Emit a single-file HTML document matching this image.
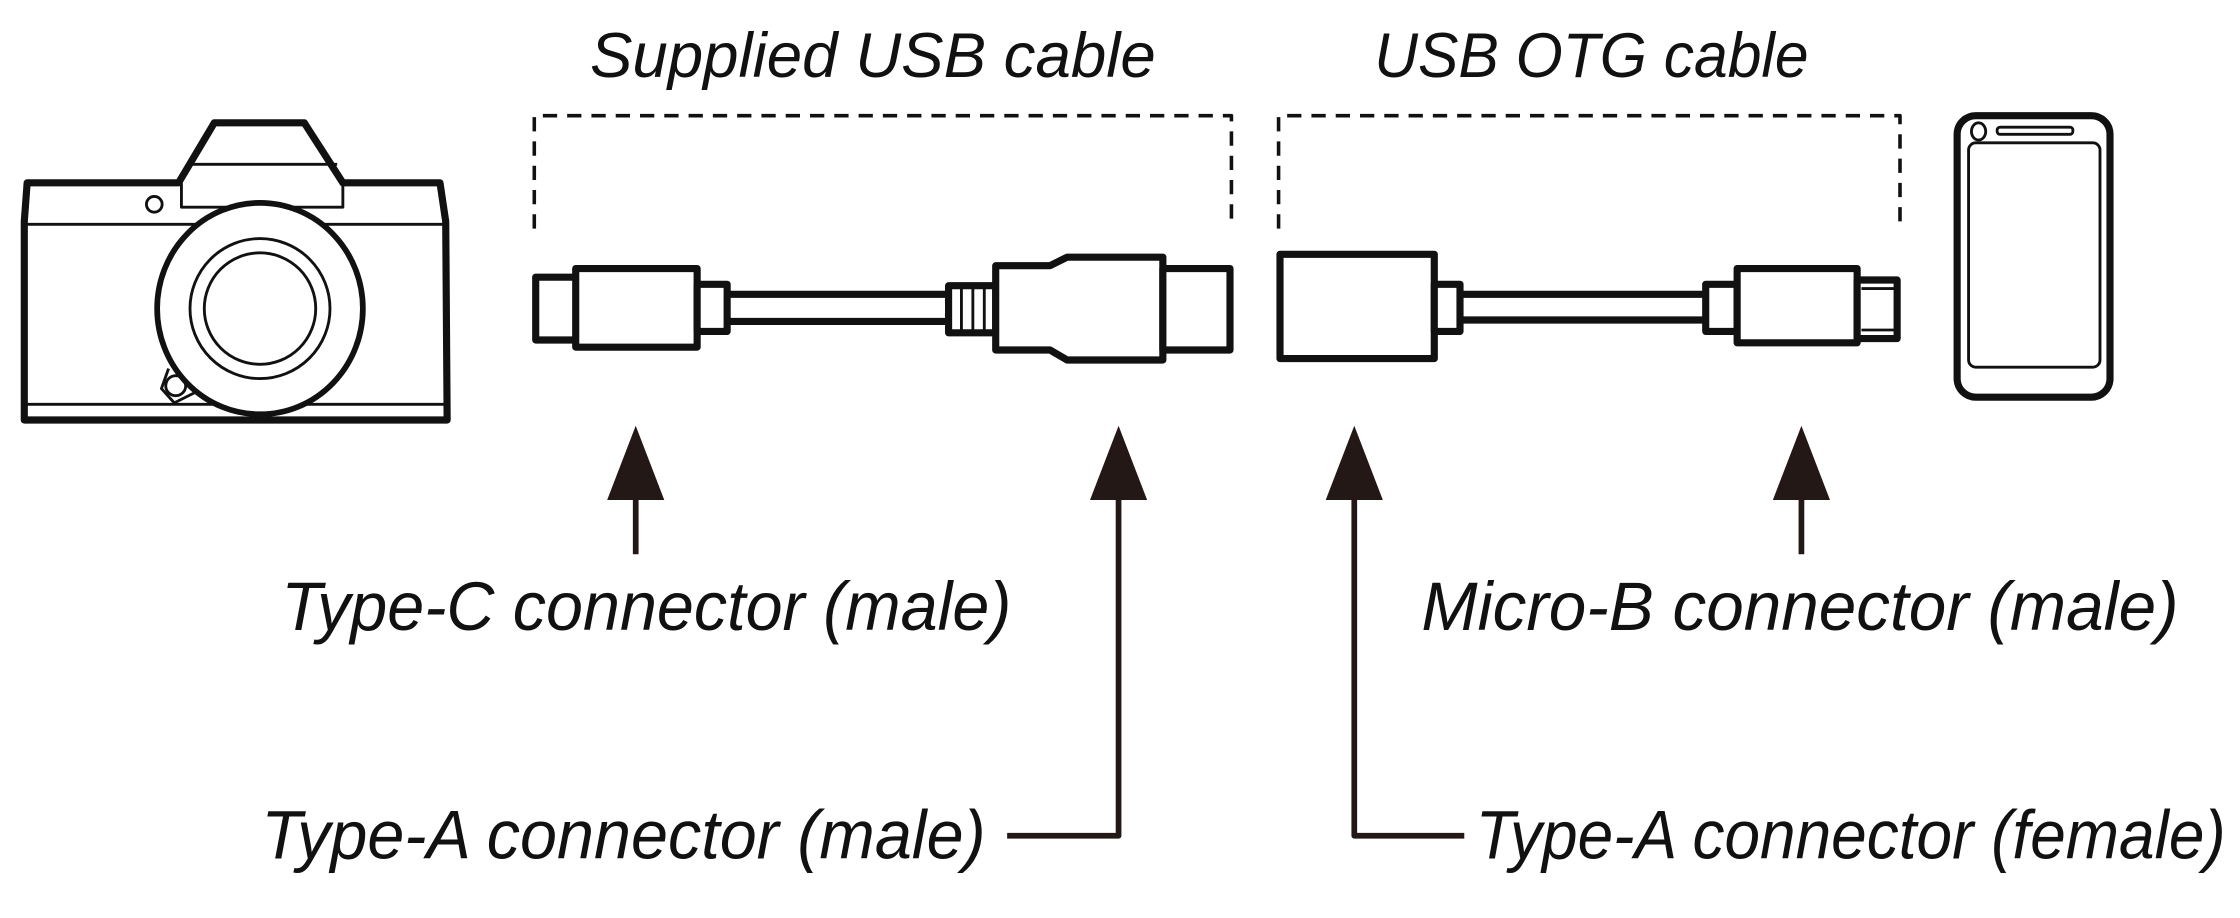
<!DOCTYPE html>
<html><head><meta charset="utf-8"><style>html,body{margin:0;padding:0;background:#fff}svg{display:block}</style></head><body>
<svg width="2240" height="918" viewBox="0 0 1568 642.6" xmlns="http://www.w3.org/2000/svg">
<g fill="none" stroke="#111" stroke-linejoin="round">
<!-- camera -->
<path d="M125,128 L150,86 L213,86 L240,128 L308,128 L312,155 L313,294 L17,294 L17,155 L19,128 Z" stroke-width="5" fill="#fff"/>
<path d="M127,128 L127,145 L240,145 L240,128" stroke-width="2"/>
<path d="M131,115 L236,115" stroke-width="2"/>
<line x1="18" y1="157" x2="311" y2="157" stroke-width="2"/>
<line x1="18" y1="283" x2="311" y2="283" stroke-width="2"/>
<circle cx="108" cy="143" r="5.5" stroke-width="2"/>
<path d="M118,258 L113,272 L122,282 L136,275" stroke-width="2" fill="#fff"/>
<circle cx="123" cy="270" r="7" stroke-width="2" fill="#fff"/>
<ellipse cx="182" cy="216" rx="72" ry="74" stroke-width="4" fill="#fff"/>
<circle cx="182" cy="216" r="49" stroke-width="2"/>
<circle cx="182" cy="216" r="39" stroke-width="2"/>
<!-- dashed boxes -->
<path d="M374,160 L374,81 L862,81 L862,160" stroke-width="2.5" stroke-dasharray="10,7"/>
<path d="M895,160 L895,81 L1330,81 L1330,160" stroke-width="2.5" stroke-dasharray="10,7"/>
<!-- Type-C cable -->
<rect x="375" y="194" width="29" height="44" stroke-width="5" fill="#fff"/>
<rect x="403" y="188" width="85" height="55" stroke-width="5" fill="#fff"/>
<rect x="488" y="199" width="21" height="33" stroke-width="5" fill="#fff"/>
<line x1="509" y1="206" x2="664" y2="206" stroke-width="5"/>
<line x1="509" y1="225" x2="664" y2="225" stroke-width="5"/>
<rect x="664" y="200" width="33" height="33" stroke-width="5" fill="#fff"/>
<line x1="673" y1="202" x2="673" y2="231" stroke-width="2"/>
<line x1="681" y1="202" x2="681" y2="231" stroke-width="2"/>
<line x1="689" y1="202" x2="689" y2="231" stroke-width="2"/>
<path d="M697,186 L735,186 L747,180 L814,180 L814,252 L747,252 L735,245 L697,245 Z" stroke-width="5" fill="#fff"/>
<rect x="814" y="188" width="47" height="57" stroke-width="5" fill="#fff"/>
<!-- OTG cable -->
<rect x="896" y="178" width="108" height="73" stroke-width="5" fill="#fff"/>
<rect x="1004" y="199" width="18" height="33" stroke-width="5" fill="#fff"/>
<line x1="1022" y1="206" x2="1194" y2="206" stroke-width="5"/>
<line x1="1022" y1="224" x2="1194" y2="224" stroke-width="5"/>
<rect x="1194" y="199" width="22" height="33" stroke-width="5" fill="#fff"/>
<rect x="1216" y="188" width="84" height="52" stroke-width="5" fill="#fff"/>
<rect x="1300" y="196" width="28" height="41" stroke-width="5" fill="#fff"/>
<line x1="1303" y1="202" x2="1326" y2="202" stroke-width="2"/>
<line x1="1303" y1="231" x2="1326" y2="231" stroke-width="2"/>
<!-- phone -->
<rect x="1370" y="81" width="107" height="197" rx="13" stroke-width="5" fill="#fff"/>
<rect x="1378" y="100" width="92" height="157" rx="5" stroke-width="2"/>
<ellipse cx="1385" cy="92" rx="5" ry="6" stroke-width="2"/>
<rect x="1398" y="89" width="53" height="5" rx="2" stroke-width="2"/>
<!-- arrows -->
<g stroke="#231815" stroke-width="4">
<line x1="445" y1="388" x2="445" y2="330"/>
<path d="M783,340 L783,585 L705,585"/>
<path d="M948,340 L948,585 L1025,585"/>
<line x1="1261" y1="388" x2="1261" y2="330"/>
</g>
</g>
<g fill="#231815">
<polygon points="445,298 425,350 465,350"/>
<polygon points="783,298 763,350 803,350"/>
<polygon points="948,298 928,350 968,350"/>
<polygon points="1261,298 1241,350 1281,350"/>
</g>
<g font-family="Liberation Sans, sans-serif" font-style="italic" fill="#111">
<text x="413" y="54" font-size="44" textLength="396" lengthAdjust="spacingAndGlyphs">Supplied USB cable</text>
<text x="962" y="54" font-size="44" textLength="304" lengthAdjust="spacingAndGlyphs">USB OTG cable</text>
<text x="197" y="441" font-size="48" textLength="511" lengthAdjust="spacingAndGlyphs">Type-C connector (male)</text>
<text x="995" y="441" font-size="48" textLength="530" lengthAdjust="spacingAndGlyphs">Micro-B connector (male)</text>
<text x="183" y="601" font-size="48" textLength="507" lengthAdjust="spacingAndGlyphs">Type-A connector (male)</text>
<text x="1033" y="601" font-size="48" textLength="525" lengthAdjust="spacingAndGlyphs">Type-A connector (female)</text>
</g>
</svg>
</body></html>
